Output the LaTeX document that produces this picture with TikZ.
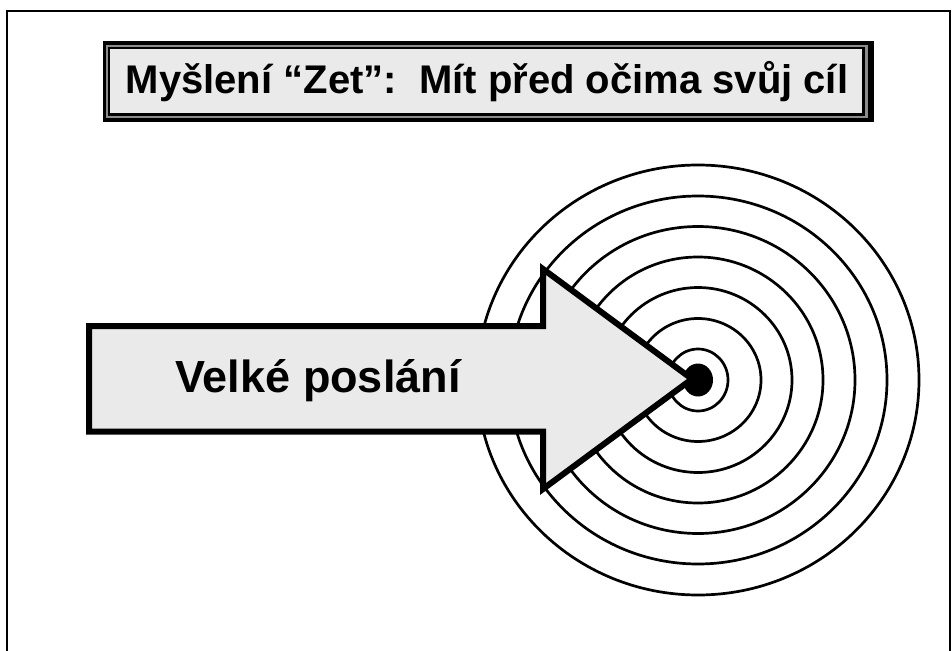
\documentclass[tikz,border=0pt]{standalone}
\usepackage{fontspec}
\setmainfont{Liberation Sans}
\definecolor{boxfill}{HTML}{EAEAEA}
\definecolor{bandgray}{HTML}{8C8C8C}
\begin{document}
\begin{tikzpicture}[x=1pt,y=-1pt,
  ring/.style={draw=black,line width=2.7pt},
  arrowshape/.style={draw=black,line width=6pt,fill=boxfill,line join=miter,miter limit=10},
  titletext/.style={font=\bfseries\fontsize{40}{40}\selectfont,anchor=base,inner sep=0pt},
  labeltext/.style={font=\bfseries\fontsize{45}{45}\selectfont,anchor=base,inner sep=0pt}]
\useasboundingbox (0,0) rectangle (952,650);
% outer frame
\draw[line width=2pt] (7,11) rectangle (950,672);
% title box (double frame)
\fill[black] (102.7,41) rectangle (874,121.7);
\fill[bandgray] (106,45) rectangle (868.3,117.7);
\fill[black] (107.7,46.7) rectangle (865,116);
\fill[boxfill] (110.3,49.3) rectangle (861.7,113.3);
\node[titletext] (title) at (487,94) {Myšlení “Zet”:\ \ Mít před očima svůj cíl};
% target rings
\coordinate (c) at (698,380);
\foreach \rx/\ry in {30/31,63/61.5,94/92.5,125/123,157/153.5,189/184,221/215}
  \draw[ring] (c) ellipse [x radius=\rx, y radius=\ry];
\fill[black] (c) ellipse [x radius=15, y radius=16.5];
% arrow
\coordinate (tip) at (692,379);
\draw[arrowshape] (89,326) -- (543,326) -- (543,269) -- (tip) -- (543,489) -- (543,431.5) -- (89,431.5) -- cycle;
\node[labeltext] (label) at (318,392) {Velké poslání};
\end{tikzpicture}
\end{document}
